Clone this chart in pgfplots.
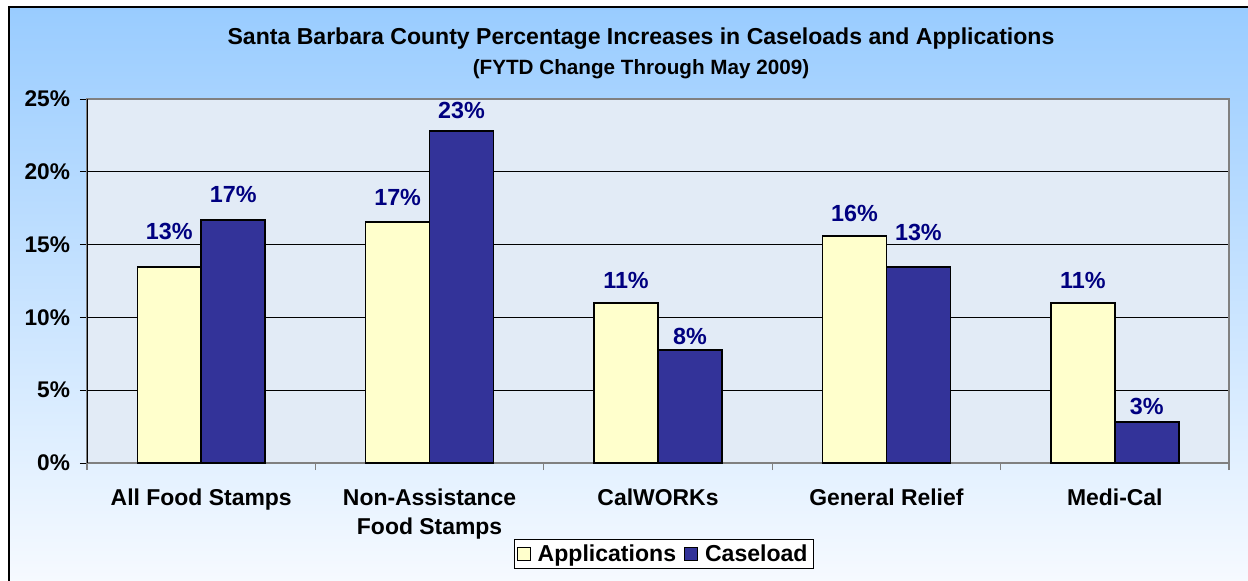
\documentclass[border=0pt]{standalone}
\usepackage{pgfplots}
\usepackage{pgfplotstable}
\pgfplotsset{compat=1.18}
\usepackage{fontspec}
\setmainfont{Liberation Sans}
\definecolor{apps}{HTML}{FFFFCC}
\definecolor{cas}{HTML}{333399}
\definecolor{lbl}{HTML}{000080}
\definecolor{plotbg}{HTML}{E2EBF6}
\definecolor{topbg}{HTML}{99CCFF}
\definecolor{midbg}{HTML}{C9E3FF}
\definecolor{botbg}{HTML}{F8FBFF}

\pgfplotstableread{
x y
0 13.46
1 16.55
2 10.99
3 15.59
4 10.99
}\apps
\pgfplotstableread{
x y
0 16.69
1 22.80
2 7.76
3 13.46
4 2.82
}\cas
\pgfplotstableread{
x y label
-0.14 15.93 13
0.14 18.41 17
0.86 18.27 17
1.14 24.18 23
1.86 12.57 11
2.14 8.72 8
2.86 17.17 16
3.14 15.80 13
3.86 12.57 11
4.14 3.91 3
}\labels

\begin{document}
\begin{tikzpicture}
\useasboundingbox (0,0) rectangle (936pt,435.75pt);
\begin{scope}
\clip (0,0) rectangle (936pt,435.75pt);
\shade[top color=topbg, middle color=midbg, bottom color=botbg, draw=black, line width=0.8pt]
  (6.75pt,-10pt) rectangle (950pt,430.5pt);
\end{scope}
\node[font=\bfseries\fontsize{17.3}{20}\selectfont] at (480.75pt,406.5pt)
  {Santa Barbara County Percentage Increases in Caseloads and Applications};
\node[font=\bfseries\fontsize{15.5}{18}\selectfont] at (480.75pt,384pt)
  {(FYTD Change Through May 2009)};
\begin{axis}[
  at={(65.25pt,88.5pt)}, anchor=south west,
  width=856.5pt, height=273pt, scale only axis,
  xmin=-0.5, xmax=4.5, ymin=0, ymax=25,
  axis background/.style={fill=plotbg},
  axis line style={draw=gray, line width=0.9pt},
  tick pos=left,
  xtick={0,1,2,3,4},
  xticklabels={All Food Stamps,{Non-Assistance\\Food Stamps},CalWORKs,General Relief,Medi-Cal},
  xticklabel style={align=center, font=\bfseries\fontsize{17.2}{21.75}\selectfont, yshift=-11pt},
  major x tick style={draw=none},
  minor xtick={-0.5,0.5,1.5,2.5,3.5,4.5},
  minor tick style={draw=gray, line width=0.8pt},
  tick align=outside,
  major tick length=5.25pt, minor tick length=5.25pt,
  ytick={0,5,10,15,20,25},
  yticklabels={0\%,5\%,10\%,15\%,20\%,25\%},
  yticklabel style={font=\bfseries\fontsize{17}{20}\selectfont, xshift=-4pt},
  major y tick style={draw=black, line width=0.6pt},
  ymajorgrids,
  major grid style={draw=black, line width=0.6pt},
  legend style={at={(0.5048,-0.25)}, anchor=center, legend columns=2,
    draw=black, line width=0.6pt, fill=white,
    font=\bfseries\fontsize{17.3}{20}\selectfont, inner sep=2pt,
    /tikz/every odd column/.append style={column sep=3pt},
    /tikz/every even column/.append style={column sep=4pt}},
  legend cell align=left,
  clip=false,
]
\addplot[ybar, bar width=0.28, bar shift=-0.14, fill=apps, draw=black, line width=1.1pt,
  legend image code/.code={\draw[fill=apps, draw=black, line width=0.7pt] (0pt,-5pt) rectangle (10pt,5pt);}]
  table[x=x,y=y]{\apps};
\addlegendentry{Applications}
\addplot[ybar, bar width=0.28, bar shift=0.14, fill=cas, draw=black, line width=1.1pt,
  legend image code/.code={\draw[fill=cas, draw=black, line width=0.7pt] (0pt,-5pt) rectangle (10pt,5pt);}]
  table[x=x,y=y]{\cas};
\addlegendentry{Caseload}
\addplot[draw=none, mark=none, forget plot, point meta=explicit symbolic,
  nodes near coords={\pgfplotspointmeta\%},
  every node near coord/.style={anchor=center, inner sep=0pt, text=lbl,
    font=\bfseries\fontsize{17.5}{20}\selectfont}]
  table[x=x,y=y,meta=label]{\labels};
\draw[black, line width=0.6pt] (rel axis cs:0,0) -- (rel axis cs:0,1);
\end{axis}
\end{tikzpicture}
\end{document}
